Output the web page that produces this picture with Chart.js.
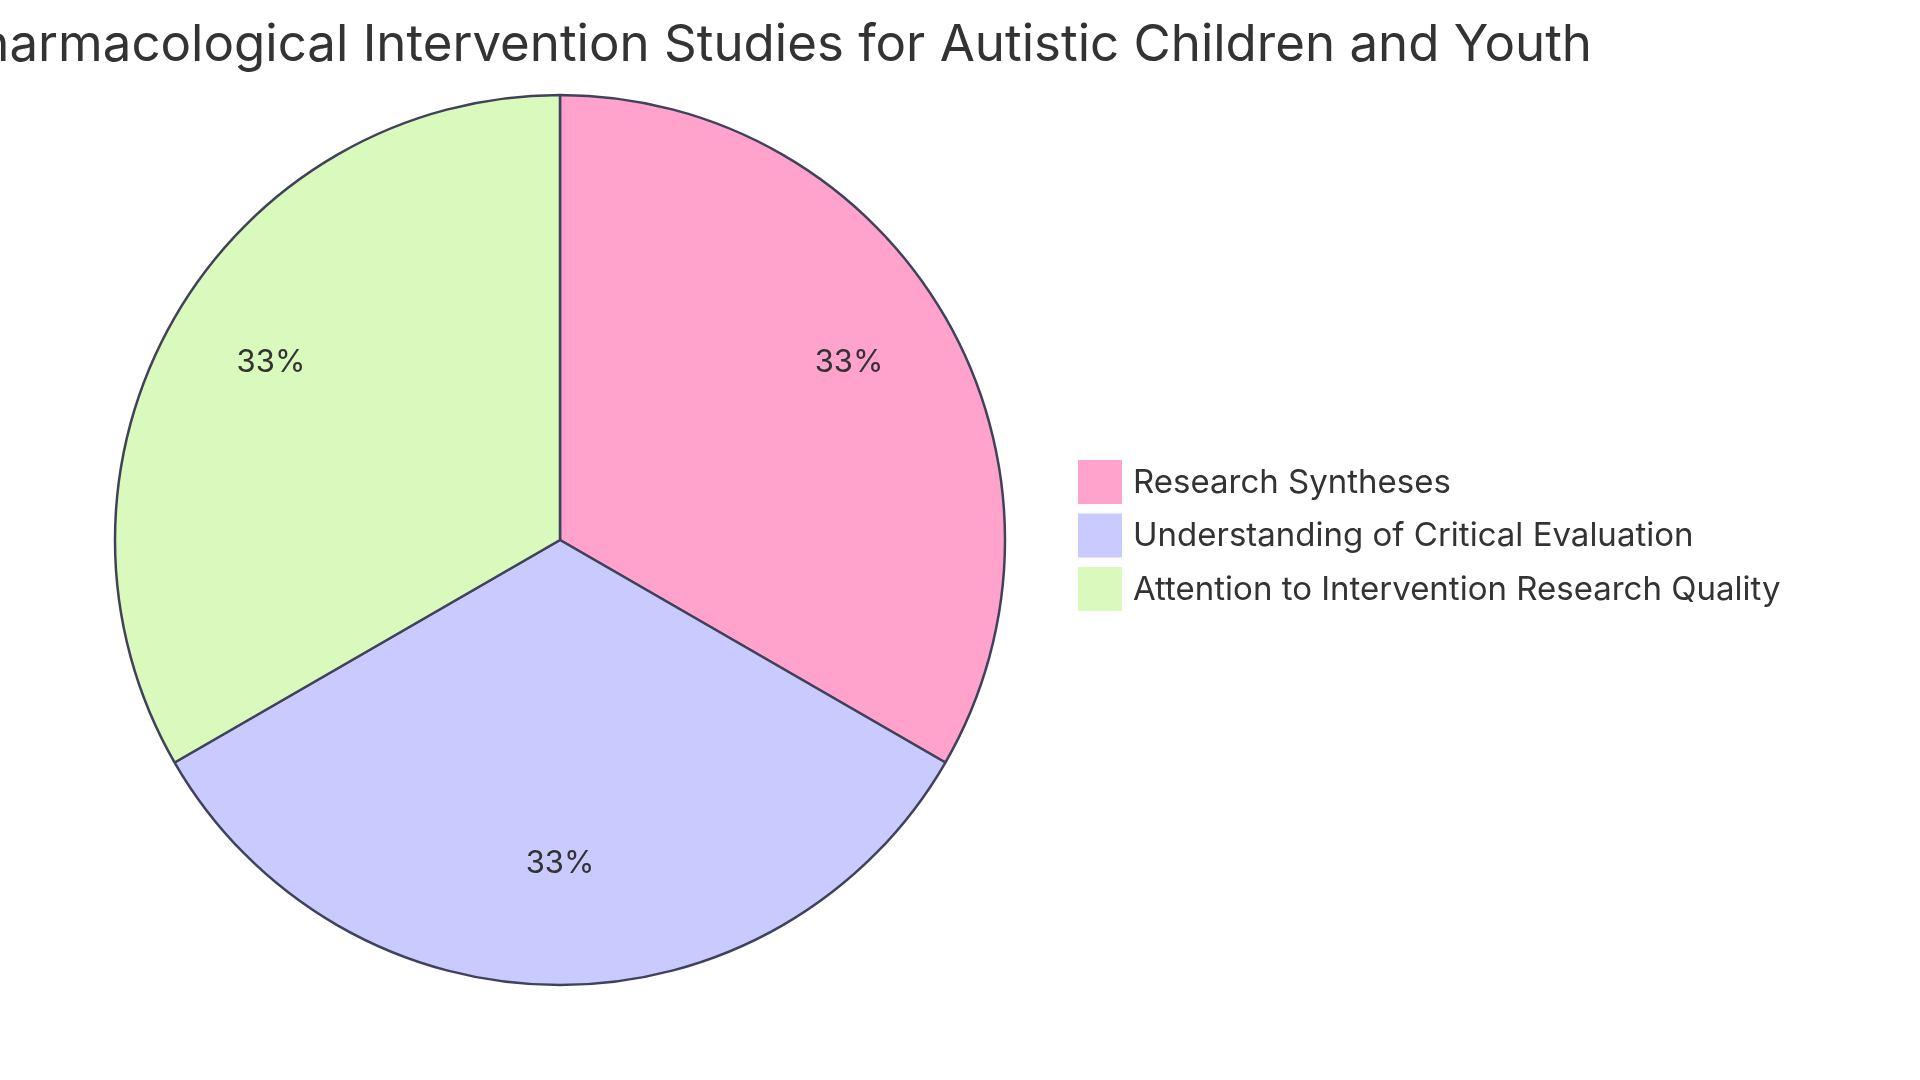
<!DOCTYPE html>
<html>
<head>
<meta charset="utf-8">
<script src="https://cdn.jsdelivr.net/npm/chart.js@4/dist/chart.umd.min.js"></script>
<style>
html,body{margin:0;padding:0;background:#fff;}
#wrap{width:1920px;height:1080px;position:relative;}
</style>
</head>
<body>
<div id="wrap"><canvas id="c" width="1920" height="1080"></canvas></div>
<script>
const titleText = "Pharmacological Intervention Studies for Autistic Children and Youth";
const categories = ["Research Syntheses", "Understanding of Critical Evaluation", "Attention to Intervention Research Quality"];
const values = [1, 1, 1];
const sliceColors = ["#FFA3CD", "#C9CAFE", "#DAF9BC"];
const strokeColor = "#3F425A";
const textColor = "#333333";
const FONT = "Inter, 'Noto Sans', sans-serif";

const titlePlugin = {
  id: 'customTitle',
  afterDraw(chart) {
    const ctx = chart.ctx;
    ctx.save();
    ctx.font = "400 51px " + FONT;
    ctx.fillStyle = textColor;
    ctx.textAlign = 'right';
    ctx.textBaseline = 'alphabetic';
    ctx.fillText(titleText, 1592, 61);
    ctx.restore();
  }
};

const pctPlugin = {
  id: 'pctLabels',
  afterDatasetsDraw(chart) {
    const ctx = chart.ctx;
    const meta = chart.getDatasetMeta(0);
    const data = chart.data.datasets[0].data;
    const total = data.reduce((a, b) => a + b, 0);
    ctx.save();
    ctx.font = "400 31px " + FONT;
    ctx.fillStyle = textColor;
    ctx.textAlign = 'center';
    ctx.textBaseline = 'middle';
    meta.data.forEach((arc, i) => {
      const p = arc.getProps(['x', 'y', 'startAngle', 'endAngle', 'outerRadius'], true);
      const mid = (p.startAngle + p.endAngle) / 2;
      const r = p.outerRadius * 0.75;
      const pct = Math.round(data[i] / total * 100) + '%';
      ctx.fillText(pct, p.x + Math.cos(mid) * r, p.y + Math.sin(mid) * r - 10);
    });
    ctx.restore();
  }
};

const legendPlugin = {
  id: 'customLegend',
  afterDraw(chart) {
    const ctx = chart.ctx;
    const labels = chart.data.labels;
    const colors = chart.data.datasets[0].backgroundColor;
    ctx.save();
    ctx.font = "400 33px " + FONT;
    ctx.textAlign = 'left';
    ctx.textBaseline = 'middle';
    labels.forEach((lab, i) => {
      const cy = 482 + i * 53.5;
      ctx.fillStyle = colors[i];
      ctx.fillRect(1078, cy - 22, 44, 44);
      ctx.fillStyle = textColor;
      ctx.fillText(lab, 1133, cy + 1);
    });
    ctx.restore();
  }
};

new Chart(document.getElementById('c'), {
  type: 'pie',
  data: {
    labels: categories,
    datasets: [{
      data: values,
      backgroundColor: sliceColors,
      borderColor: strokeColor,
      borderWidth: 2.5
    }]
  },
  options: {
    responsive: false,
    animation: false,
    radius: 445,
    layout: { padding: { left: 0, right: 800, top: 0, bottom: 0 } },
    plugins: {
      legend: { display: false },
      title: { display: false },
      tooltip: { enabled: false }
    }
  },
  plugins: [titlePlugin, pctPlugin, legendPlugin]
});
</script>
</body>
</html>
